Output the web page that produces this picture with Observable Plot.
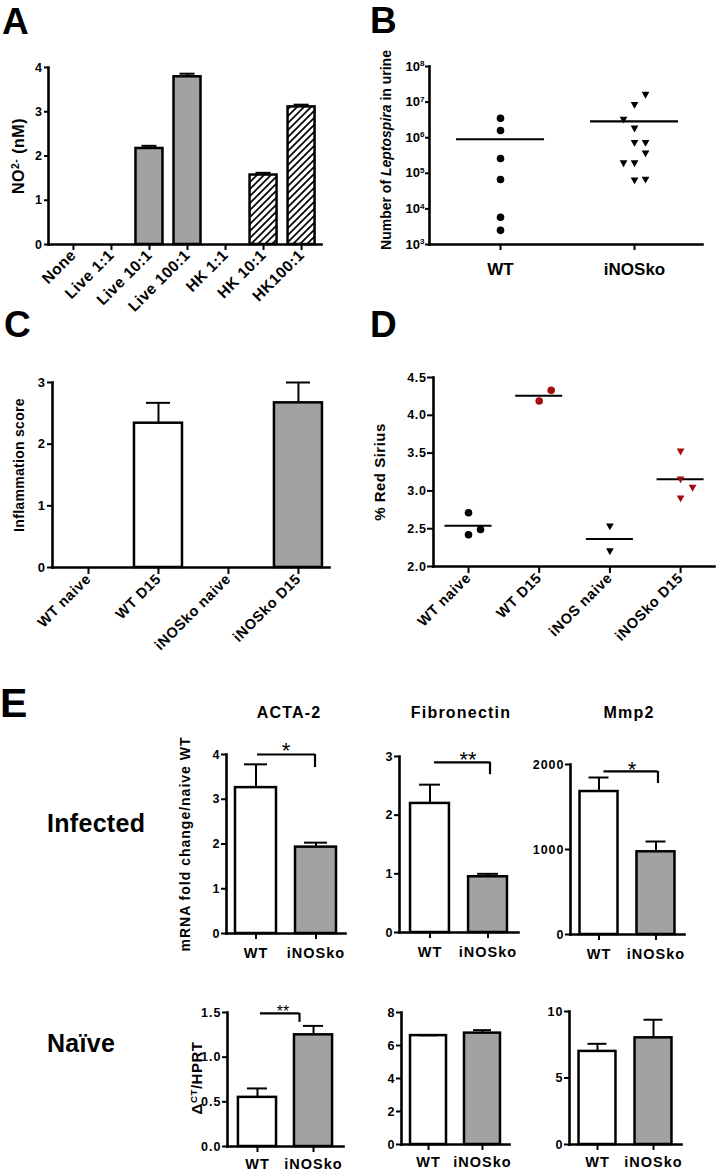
<!DOCTYPE html>
<html><head><meta charset="utf-8">
<script src="https://cdn.jsdelivr.net/npm/d3@7"></script>
<script src="https://cdn.jsdelivr.net/npm/@observablehq/plot@0.6"></script>
<style>
html,body{margin:0;padding:0;background:#fff;}
#fig{position:relative;width:722px;height:1172px;overflow:hidden;background:#fff;}
</style></head><body>
<div id="fig"></div>
<script>
// ---------------- DATA ----------------
// Panel A: NO2- production
const aCategories = ["None","Live 1:1","Live 10:1","Live 100:1","HK 1:1","HK 10:1","HK100:1"];
const aKind = ["none","live","live","live","hk","hk","hk"];
const aValues = [0,0,2.17,3.79,0,1.57,3.11];
const aErrorTop = [0,0,2.23,3.86,0,1.62,3.16];
const aTicks = [0,1,2,3,4];

// Panel B: Leptospira in urine (log scale)
const bGroups = ["WT","iNOSko"];
const bWT = [3.5e6,1.6e6,2.6e5,6.7e4,5.8e3,2.5e3];
const bWTSlot = [0,0,0,0,0,0];
const bKO = [1.6e7,8.3e6,3.2e6,1.8e6,7.1e5,7.1e5,3.6e5,1.9e5,1.9e5,6.3e4,6.6e4];
const bKOSlot = [1,0,-1,0,0,1,1,-1,0,0,1];
const bTicks = [1e3,1e4,1e5,1e6,1e7,1e8];

// Panel C: inflammation score
const cCategories = ["WT naive","WT D15","iNOSko naive","iNOSko D15"];
const cGenotype = ["WT","WT","iNOSko","iNOSko"];
const cValues = [0,2.34,0,2.67];
const cErrorTop = [0,2.67,0,3.0];
const cTicks = [0,1,2,3];

// Panel D: % Red Sirius
const dCategories = ["WT naive","WT D15","iNOS naive","iNOSko D15"];
const dGenotype = ["WT","WT","iNOS","iNOS"];
const dStage = ["naive","D15","naive","D15"];
const dValues = [[2.71,2.42,2.49],[4.19,4.33],[2.53,2.20],[3.52,3.15,3.04,2.90]];
const dSlots = [[0,0,1],[0,1],[0,0],[0,0,1,0]];
const dTicks = [2.0,2.5,3.0,3.5,4.0,4.5];

// Panel E: qPCR
const eGenotypes = ["WT","iNOSko"];
const eGenes = ["ACTA-2","Fibronectin","Mmp2"];
const eInfected = [[3.26,1.93],[2.20,0.95],[1682,973]];
const eInfectedErrTop = [[3.78,2.03],[2.52,1.00],[1847,1094]];
const eInfectedTicks = [[0,1,2,3,4],[0,1,2,3],[0,1000,2000]];
const eInfectedSig = ["*","**","*"];
const eInfectedBracket = [[4.0,3.71],[2.90,2.69],[1918,1776]];
const eNaive = [[0.55,1.25],[6.6,6.75],[7.0,8.02]];
const eNaiveErrTop = [[0.65,1.35],[6.62,6.93],[7.57,9.38]];
const eNaiveTicks = [[0,0.5,1.0,1.5],[0,2,4,6,8],[0,5,10]];
const eNaiveSig = ["**","",""];
const eNaiveBracket = [[1.49,1.39],null,null];

// ---------------- STYLE / LAYOUT ----------------
const FONT = '"Liberation Sans", Arial, Helvetica, sans-serif';
const RED = "#a30d0d";
const GRAY = "#a2a2a4";
const fig = document.getElementById("fig");

// hatch pattern
const defsSvg = d3.create("svg").attr("width",0).attr("height",0).style("position","absolute");
const pat = defsSvg.append("defs").append("pattern").attr("id","hatch")
  .attr("patternUnits","userSpaceOnUse").attr("width",7).attr("height",7);
pat.append("rect").attr("width",7).attr("height",7).attr("fill","white");
pat.append("path").attr("d","M-1,1 L1,-1 M0,7 L7,0 M6,8 L8,6").attr("stroke","black").attr("stroke-width",1.7);
fig.appendChild(defsSvg.node());

function place(frame, m, spec) {
  const {x0,x1,yTop,yBot} = frame;
  const svg = Plot.plot({
    width: m.l + (x1-x0) + m.r,
    height: m.t + (yBot-yTop) + m.b,
    marginLeft: m.l, marginRight: m.r, marginTop: m.t, marginBottom: m.b,
    style: {fontFamily: FONT, fontWeight: "bold", color: "black", background: "transparent", overflow: "visible", letterSpacing: m.ls || "0px"},
    ...spec
  });
  Object.assign(svg.style, {position:"absolute", left:(x0-m.l)+"px", top:(yTop-m.t)+"px", maxWidth:"none"});
  fig.appendChild(svg);
  return svg;
}
const axisLines = () => [
  Plot.frame({anchor:"left", strokeWidth:2.6, strokeLinecap:"square"}),
  Plot.frame({anchor:"bottom", strokeWidth:2.6, strokeLinecap:"square"})
];

// custom downward triangle symbol
const triangleDown = {
  draw(context, size) {
    const a = Math.sqrt(size) * 0.56;
    context.moveTo(-a, -0.78 * a);
    context.lineTo(a, -0.78 * a);
    context.lineTo(0, 0.98 * a);
    context.closePath();
  }
};

// ---------------- PANEL A ----------------
const aRows = aCategories.map((c,i)=>({cat:c, kind:aKind[i], value:aValues[i], err:aErrorTop[i]}));
const aBars = aRows.filter(d=>d.value>0);
place({x0:48,x1:321,yTop:67,yBot:244}, {l:30,r:10,t:10,b:70, ls:"0.5px"}, {
  x: {type:"band", domain:aCategories, paddingInner:0.29, paddingOuter:0.235, align:0.64, round:false},
  y: {domain:[0,4]},
  marks: [
    Plot.barY(aBars.filter(d=>d.kind==="live"), {x:"cat", y:"value", fill:GRAY, stroke:"black", strokeWidth:2.5}),
    Plot.barY(aBars.filter(d=>d.kind==="hk"), {x:"cat", y:"value", fill:"url(#hatch)", stroke:"black", strokeWidth:2.5}),
    Plot.ruleX(aBars, {x:"cat", y1:"value", y2:"err", strokeWidth:2}),
    Plot.tickY(aBars, {x:"cat", y:"err", strokeWidth:2, insetLeft:6, insetRight:6}),
    Plot.axisY(aTicks, {tickSize:4, tickPadding:2, fontSize:12.5, fontWeight:"bold", strokeWidth:2, label:null, tickFormat: d3.format("d")}),
    Plot.axisX({tickSize:6, tickPadding:2, tickRotate:-45, fontSize:15.5, fontWeight:"bold", strokeWidth:2, label:null}),
    ...axisLines()
  ]
});

// ---------------- PANEL B ----------------
const bRows = [
  ...bWT.map((v,i)=>({group:"WT", value:v, slot:bWTSlot[i]})),
  ...bKO.map((v,i)=>({group:"iNOSko", value:v, slot:bKOSlot[i]}))
];
const bSvg = place({x0:429,x1:702,yTop:66,yBot:244}, {l:32,r:10,t:12,b:40}, {
  x: {type:"band", domain:bGroups, paddingInner:0.343, paddingOuter:0.19, align:0.53, round:false},
  y: {type:"log", domain:[1e3,1e8]},
  marks: [
    Plot.tickY(bRows, Plot.groupX({y:"mean"}, {x:"group", y:"value", strokeWidth:2.2})),
    ...[-1,0,1].flatMap(s => [
      Plot.dot(bRows.filter(d=>d.slot===s && d.group==="WT"), {x:"group", y:"value", r:3.8, fill:"black", stroke:"none", symbol:"circle", dx:s*11}),
      Plot.dot(bRows.filter(d=>d.slot===s && d.group==="iNOSko"), {x:"group", y:"value", r:3.9, fill:"black", stroke:"none", symbol:triangleDown, dx:s*11})
    ]),
    Plot.axisY(bTicks, {tickSize:4, tickPadding:1, fontSize:13, fontWeight:"bold", strokeWidth:2, label:null,
      tickFormat: d => "10^" + Math.round(Math.log10(d))}),
    Plot.axisX({tickSize:6, tickPadding:12, fontSize:17, fontWeight:"bold", strokeWidth:2, label:null}),
    ...axisLines()
  ]
});
d3.select(bSvg).selectAll("text").each(function(){
  const t = this.textContent;
  if (t.includes("^")) {
    const [base, exp] = t.split("^");
    const sel = d3.select(this).text(null);
    sel.append("tspan").text(base);
    sel.append("tspan").attr("dy","-0.55em").attr("font-size","0.62em").text(exp);
  }
});

// ---------------- PANEL C ----------------
const cRows = cCategories.map((c,i)=>({cat:c, geno:cGenotype[i], value:cValues[i], err:cErrorTop[i]}));
const cBars = cRows.filter(d=>d.value>0);
place({x0:52,x1:329,yTop:382,yBot:567}, {l:30,r:10,t:10,b:80, ls:"0.6px"}, {
  x: {type:"band", domain:cCategories, paddingInner:0.314, paddingOuter:0.136, align:0.63, round:false},
  y: {domain:[0,3]},
  marks: [
    Plot.barY(cBars, {x:"cat", y:"value", fill: d => d.geno==="WT" ? "white" : GRAY, stroke:"black", strokeWidth:2.5}),
    Plot.ruleX(cBars, {x:"cat", y1:"value", y2:"err", strokeWidth:2}),
    Plot.tickY(cBars, {x:"cat", y:"err", strokeWidth:2, insetLeft:12, insetRight:12}),
    Plot.axisY(cTicks, {tickSize:5, tickPadding:2, fontSize:13, fontWeight:"bold", strokeWidth:2, label:null, tickFormat: d3.format("d")}),
    Plot.axisX({tickSize:7, tickPadding:2, tickRotate:-45, fontSize:14.5, fontWeight:"bold", strokeWidth:2, label:null}),
    ...axisLines()
  ],
  color: {type:"identity"}
});

// ---------------- PANEL D ----------------
const dRows = dCategories.flatMap((c,i)=>dValues[i].map((v,j)=>({cat:c, geno:dGenotype[i], stage:dStage[i], value:v, slot:dSlots[i][j]})));
place({x0:433,x1:714,yTop:377,yBot:566}, {l:34,r:6,t:10,b:80, ls:"0.6px"}, {
  x: {type:"band", domain:dCategories, paddingInner:0.335, paddingOuter:0.155, align:0.525, round:false},
  y: {domain:[2,4.5]},
  color: {domain:["naive","D15"], range:["black", RED]},
  marks: [
    Plot.tickY(dRows, Plot.groupX({y:"mean"}, {x:"cat", y:"value", strokeWidth:2})),
    ...[0,1].flatMap(s => [
      Plot.dot(dRows.filter(d=>d.slot===s && d.geno==="WT"), {x:"cat", y:"value", r:3.8, fill:"stage", stroke:"none", symbol:"circle", dx:s*12}),
      Plot.dot(dRows.filter(d=>d.slot===s && d.geno==="iNOS"), {x:"cat", y:"value", r:3.9, fill:"stage", stroke:"none", symbol:triangleDown, dx:s*12})
    ]),
    Plot.axisY(dTicks, {tickSize:6, tickPadding:1, fontSize:12.5, fontWeight:"bold", strokeWidth:2, label:null, tickFormat: d3.format(".1f")}),
    Plot.axisX({tickSize:7, tickPadding:2, tickRotate:-45, fontSize:14.5, fontWeight:"bold", strokeWidth:2, label:null}),
    ...axisLines()
  ]
});

// ---------------- PANEL E ----------------
const eInfFrames = [{x0:226,x1:345,yTop:754,yBot:933},{x0:399,x1:518,yTop:756,yBot:932},{x0:570,x1:684,yTop:764,yBot:934}];
const eNaiveFrames = [{x0:227,x1:343,yTop:1012,yBot:1146},{x0:401,x1:509,yTop:1012,yBot:1144},{x0:569,x1:681,yTop:1011,yBot:1144}];
const eInfBand = [{pi:0.317,po:0.15},{pi:0.33,po:0.19},{pi:0.333,po:0.167}];
const eNaiveBand = [{pi:0.32,po:0.195},{pi:0.333,po:0.167},{pi:0.34,po:0.17}];
const eBracketInset = [{l:22,r:21,drop:-1},{l:24,r:17,drop:2},{l:24,r:17,drop:2}];
const eNaiveBracketInset = [{l:22,r:33,drop:-14},null,null];

function eChart(frame, band, vals, errs, ticks, fmt, bracket, bInset, tickPad) {
  const rows = eGenotypes.map((g,i)=>({geno:g, value:vals[i], err:errs[i]}));
  const marks = [
    Plot.barY(rows, {x:"geno", y:"value", fill: d => d.geno==="WT" ? "white" : GRAY, stroke:"black", strokeWidth:2.5}),
    Plot.ruleX(rows, {x:"geno", y1:"value", y2:"err", strokeWidth:2}),
    Plot.tickY(rows, {x:"geno", y:"err", strokeWidth:2, insetLeft:9, insetRight:9}),
    Plot.axisY(ticks, {tickSize:5, tickPadding:1, fontSize:12.5, fontWeight:"bold", strokeWidth:2, label:null, tickFormat: fmt}),
    Plot.axisX({tickSize:6, tickPadding:tickPad, fontSize:14.5, fontWeight:"bold", strokeWidth:2, label:null}),
    ...axisLines()
  ];
  if (bracket) {
    marks.push(
      Plot.ruleY([bracket[0]], {x1: () => "WT", x2: () => "iNOSko", y: d => d, strokeWidth:2.2, insetLeft:bInset.l, insetRight:bInset.r}),
      Plot.ruleX([bracket], {x: () => "iNOSko", y1: d => d[1], y2: d => d[0], strokeWidth:2.2, dx:bInset.drop})
    );
  }
  place(frame, {l:34,r:8,t:12,b:36, ls:"1px"}, {
    x: {type:"band", domain:eGenotypes, paddingInner:band.pi, paddingOuter:band.po, round:false},
    y: {domain:[ticks[0], ticks[ticks.length-1]]},
    color: {type:"identity"},
    marks
  });
}
for (let k=0;k<3;k++) {
  eChart(eInfFrames[k], eInfBand[k], eInfected[k], eInfectedErrTop[k], eInfectedTicks[k], d3.format("d"), eInfectedBracket[k], eBracketInset[k], 8);
  eChart(eNaiveFrames[k], eNaiveBand[k], eNaive[k], eNaiveErrTop[k], eNaiveTicks[k], k===0 ? d3.format(".1f") : d3.format("d"), eNaiveBracket[k], eNaiveBracketInset[k], 6);
}

// ---------------- TEXT LAYER ----------------
const ov = d3.create("svg").attr("width",722).attr("height",1172)
  .style("position","absolute").style("left","0").style("top","0").style("pointer-events","none")
  .attr("font-family", FONT).attr("font-weight","bold");
function txt(x, y, parts, {size=14, anchor="start", rotate=0, weight="bold", ls=0} = {}) {
  const t = ov.append("text").attr("transform", `translate(${x},${y}) rotate(${rotate})`)
    .attr("font-size", size).attr("text-anchor", anchor).attr("font-weight", weight).attr("letter-spacing", ls);
  for (const p of [].concat(parts)) {
    if (typeof p === "string") t.append("tspan").text(p);
    else {
      const s = t.append("tspan").text(p.t);
      if (p.sup) s.attr("baseline-shift","super").attr("font-size", size*0.65);
      if (p.it) s.attr("font-style","italic");
    }
  }
}
// panel letters
txt(2, 34, "A", {size:37});
txt(370, 33, "B", {size:37});
txt(4, 337, "C", {size:37});
txt(370, 337, "D", {size:37});
txt(0, 717, "E", {size:41});
// axis titles
txt(24, 156, ["NO", {t:"2-", sup:true}, " (nM)"], {size:16, anchor:"middle", rotate:-90, ls:0.5});
txt(391, 150, ["Number of ", {t:"Leptospira", it:true}, " in urine"], {size:14, anchor:"middle", rotate:-90});
txt(24, 465, "Inflammation score", {size:14, anchor:"middle", rotate:-90, ls:0.3});
txt(385, 472, "% Red Sirius", {size:15, anchor:"middle", rotate:-90, ls:0.5});
txt(190, 844, "mRNA fold change/naive WT", {size:14, anchor:"middle", rotate:-90, ls:1});
txt(202, 1078, ["Δ", {t:"CT", sup:true}, "/HPRT"], {size:15, anchor:"middle", rotate:-90, ls:0.5});
// gene titles
const eTitleX = [289, 461, 629];
eGenes.forEach((g,k)=>txt(eTitleX[k], 718, g, {size:16, anchor:"middle", ls:1.2}));
// row labels
txt(47, 832, "Infected", {size:25, ls:0.3});
txt(47, 1052, "Naïve", {size:25, ls:0.3});
// significance marks
const eSigX = [286, 468, 632];
const eSigY = [758, 767, 777];
eInfectedSig.forEach((s,k)=>txt(eSigX[k], eSigY[k], s, {size:22, anchor:"middle", weight:"normal"}));
eNaiveSig.forEach((s,k)=>{ if (s) txt(283, 1017, s, {size:16, anchor:"middle", weight:"normal"}); });
fig.appendChild(ov.node());
</script>
</body></html>
